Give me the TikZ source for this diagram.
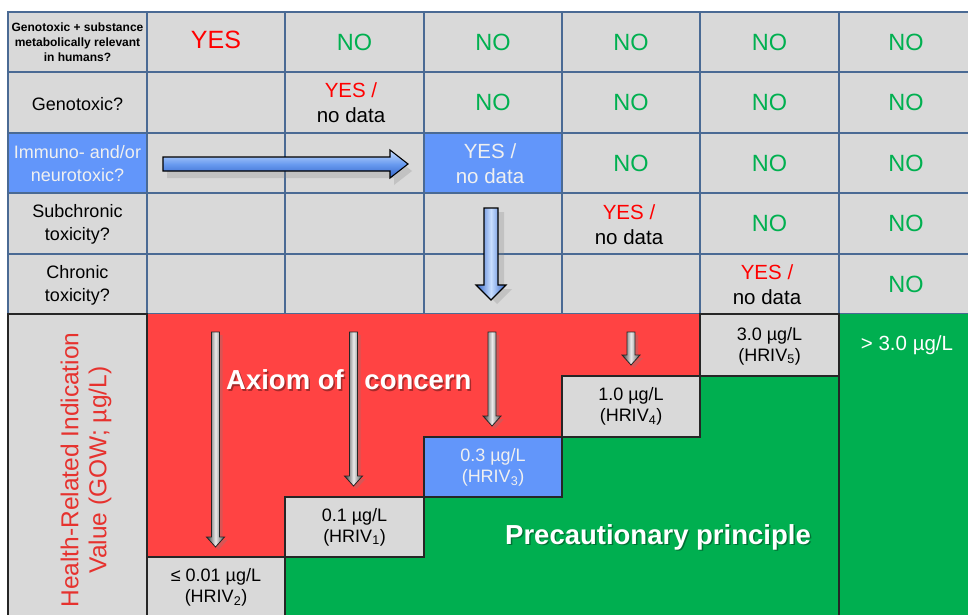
\documentclass[tikz,border=0pt]{standalone}
\usepackage{fontspec}
\setmainfont{Liberation Sans}
\usetikzlibrary{shadows}
\definecolor{cellgray}{RGB}{217,217,217}
\definecolor{gridblue}{RGB}{74,106,148}
\definecolor{fillred}{RGB}{255,67,67}
\definecolor{fillgreen}{RGB}{0,175,80}
\definecolor{fillblue}{RGB}{98,150,250}
\definecolor{txtred}{RGB}{255,0,0}
\definecolor{txtgreen}{RGB}{0,176,80}
\definecolor{lblred}{RGB}{230,50,46}
\definecolor{arrlight}{RGB}{200,222,255}
\definecolor{arrmid}{RGB}{105,155,240}
\definecolor{arrdark}{RGB}{50,100,200}
\definecolor{softwhite}{RGB}{240,240,240}
\newcommand\grayvarrow[3]{%
  \draw[grayarr] (#1-4,#2) -- (#1+4,#2) -- (#1+4,#3-10) -- (#1+9,#3-10) -- (#1,#3)
    -- (#1-9,#3-10) -- (#1-4,#3-10) -- cycle;}
\begin{document}
\begin{tikzpicture}[x=1pt,y=-1pt,
  gcell/.style={fill=cellgray, draw=gridblue, line width=1.5pt},
  bcell/.style={fill=fillblue, draw=gridblue, line width=1.5pt},
  kcell/.style={draw=black!85, line width=1.3pt},
  lbl/.style={align=center, inner sep=0pt, font=\fontsize{18}{23}\selectfont},
  nolbl/.style={inner sep=0pt, text=txtgreen, font=\fontsize{23.5}{28}\selectfont},
  yn/.style={align=center, inner sep=0pt, font=\fontsize{20.5}{25}\selectfont},
  val/.style={align=center, inner sep=0pt, font=\fontsize{18}{21}\selectfont},
  bigw/.style={inner sep=0pt, text=white, font=\bfseries\fontsize{27.5}{32}\selectfont},
  bigs/.style={inner sep=0pt, text=black, opacity=0.35, font=\bfseries\fontsize{27.5}{32}\selectfont},
  grayarr/.style={draw=black!85, line width=0.8pt, left color=black!80, right color=black!70, middle color=black!8,
    drop shadow={opacity=0.3, shadow xshift=3pt, shadow yshift=-3pt}},
  bluearrh/.style={draw=black, line width=1.1pt, top color=arrlight, bottom color=arrdark, middle color=arrmid,
    drop shadow={opacity=0.25, shadow xshift=4pt, shadow yshift=-7pt}},
  bluearrv/.style={draw=black, line width=1.1pt, left color=arrdark, right color=arrdark, middle color=arrlight,
    drop shadow={opacity=0.25, shadow xshift=6pt, shadow yshift=-4pt}}
]
\useasboundingbox (0,0) rectangle (968,615);
\fill[white] (0,0) rectangle (968,615);

% ---------- top table ----------
\foreach \xa/\xb in {8/147,147/285,285/424,424/562,562/700,700/839,839/980}
  \foreach \ya/\yb in {12/72,72/133,133/193,193/254,254/314}
    \path[gcell] (\xa,\ya) rectangle (\xb,\yb);
\path[bcell] (8,133) rectangle (147,193);
\path[bcell] (424,133) rectangle (562,193);

\node[lbl, font=\bfseries\fontsize{12}{15}\selectfont] (q1) at (77.5,42)
  {Genotoxic + substance\\metabolically relevant\\in humans?};
\node[lbl] (q2) at (77.5,104) {Genotoxic?};
\node[lbl, text=softwhite] (q3) at (77.5,164) {Immuno- and/or\\neurotoxic?};
\node[lbl] (q4) at (77.5,224.5) {Subchronic\\toxicity?};
\node[lbl] (q5) at (77.5,285) {Chronic\\toxicity?};

\node[inner sep=0pt, text=txtred, font=\fontsize{25}{30}\selectfont] (yes1) at (216,40) {YES};
\foreach \x/\y/\n in {354.5/42/a,493/42/b,631/42/c,769.5/42/d,906/42/e,
                      493/102.5/f,631/102.5/g,769.5/102.5/h,906/102.5/i,
                      631/163/j,769.5/163/k,906/163/l,
                      769.5/223.5/m,906/223.5/n,
                      906/284/o}
  \node[nolbl] (no\n) at (\x,\y) {NO};
\node[yn] (yn2) at (351,103) {{\color{txtred}YES /}\\no data};
\node[yn, text=softwhite] (yn3) at (490,164) {YES /\\no data};
\node[yn] (yn4) at (629,224.5) {{\color{txtred}YES /}\\no data};
\node[yn] (yn5) at (767,284.5) {{\color{txtred}YES /}\\no data};

% ---------- bottom section ----------
\fill[fillgreen] (285,314) rectangle (975,620);
\fill[fillred] (147,314) -- (700,314) -- (700,376) -- (562,376) -- (562,437) -- (424,437)
  -- (424,497) -- (285,497) -- (285,557) -- (147,557) -- cycle;
\path[kcell, fill=cellgray] (8,314) rectangle (147,620);
\path[kcell, fill=cellgray] (147,557) rectangle (285,620);
\path[kcell, fill=cellgray] (285,497) rectangle (424,557);
\path[kcell, fill=fillblue] (424,437) rectangle (562,497);
\path[kcell, fill=cellgray] (562,376) rectangle (700,437);
\path[kcell, fill=cellgray] (700,314) rectangle (839,376);
\draw[kcell] (839,314) -- (839,620);

\node[rotate=90, align=center, inner sep=0pt, text=lblred, font=\fontsize{24.5}{28}\selectfont] (hriv) at (86,470)
  {Health-Related Indication\\Value (GOW; µg/L)};

\node[val] (v2) at (216,587) {≤ 0.01 µg/L\\(HRIV\textsubscript{2})};
\node[val] (v1) at (354.5,527) {0.1 µg/L\\(HRIV\textsubscript{1})};
\node[val, text=softwhite] (v3) at (493,467) {0.3 µg/L\\(HRIV\textsubscript{3})};
\node[val] (v4) at (631,406.5) {1.0 µg/L\\(HRIV\textsubscript{4})};
\node[val] (v5) at (769.5,346) {3.0 µg/L\\(HRIV\textsubscript{5})};
\node[inner sep=0pt, text=white, font=\fontsize{20.5}{24}\selectfont] (v6) at (907,345) {> 3.0 µg/L};

\node[bigs, anchor=west] at (227.5,381.5) {Axiom of\hspace{13pt} concern};
\node[bigw, anchor=west] (axiom) at (226,380) {Axiom of\hspace{13pt} concern};
\node[bigs] at (659.5,538.5) {Precautionary principle};
\node[bigw] (prec) at (658,537) {Precautionary principle};

% ---------- arrows ----------
\draw[bluearrh] (163,157) -- (390,157) -- (390,150) -- (408,164) -- (390,178) -- (390,171) -- (163,171) -- cycle;
\draw[bluearrv] (484,208) -- (498,208) -- (498,285) -- (506,285) -- (491,300) -- (476,285) -- (484,285) -- cycle;

\grayvarrow{215.5}{332}{547}
\grayvarrow{353.5}{332}{486}
\grayvarrow{492}{332}{426}
\grayvarrow{631}{332}{365}
\end{tikzpicture}
\end{document}
